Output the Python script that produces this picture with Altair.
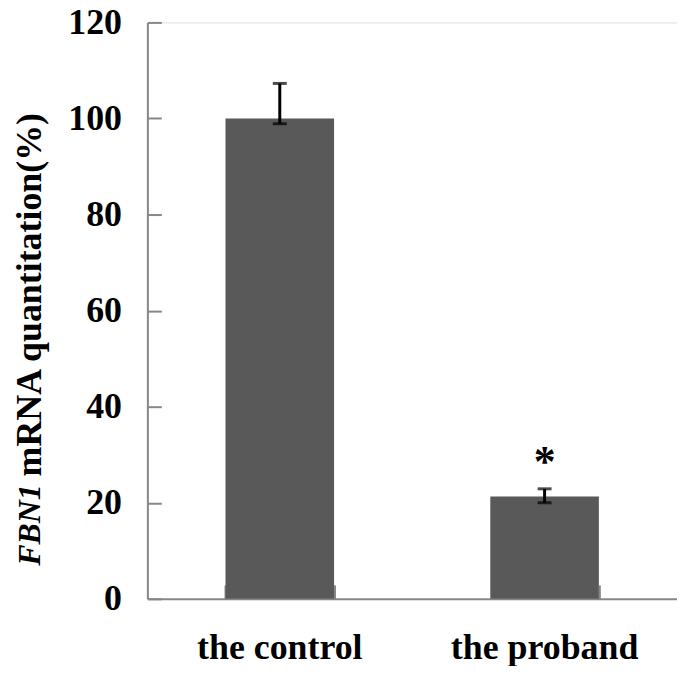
import altair as alt
import pandas as pd

groups = ["the control", "the proband"]
means = [100.0, 21.3]
err_low = [98.9, 20.0]
err_high = [107.3, 22.9]
sig_marks = ["", "*"]
y_ticks = [0, 20, 40, 60, 80, 100, 120]
title_parts = ["FBN1", "mRNA quantitation(%)"]

df = pd.DataFrame({"group": groups, "mean": means, "low": err_low,
                   "high": err_high, "sig": sig_marks})

W, H = 532, 579
FONT = "Liberation Serif"
AXIS_COLOR = "#878787"
BAR_COLOR = "#595959"
TICK = 14

xscale = alt.Scale(domain=groups, paddingInner=0.59, paddingOuter=0.295)
yscale = alt.Scale(domain=[0, 120], nice=False, zero=True)

bars = alt.Chart(df).mark_bar(color=BAR_COLOR).encode(
    x=alt.X("group:N", scale=xscale, sort=groups,
            axis=alt.Axis(orient="bottom", title=None, ticks=False, tickSize=0,
                          labelPadding=32, labelAngle=0, labelFontSize=36,
                          labelFont=FONT, labelFontWeight="bold", labelColor="black",
                          labelBaseline="top", labelLimit=0,
                          domainColor=AXIS_COLOR, domainWidth=2, grid=False)),
    y=alt.Y("mean:Q", scale=yscale,
            axis=alt.Axis(orient="left", title=None, values=y_ticks, ticks=False,
                          tickSize=0, labelPadding=26, labelFontSize=36, labelFont=FONT,
                          labelFontWeight="bold", labelColor="black",
                          domainColor=AXIS_COLOR, domainWidth=2, grid=False)),
)

errs = alt.Chart(df).mark_errorbar(
    color="black",
    ticks={"size": 14, "thickness": 3, "color": "black"},
    rule={"strokeWidth": 3, "color": "black"},
).encode(
    x=alt.X("group:N", scale=xscale, sort=groups, axis=None),
    y=alt.Y("low:Q", scale=yscale, axis=None),
    y2=alt.Y2("high:Q"),
)

stars = alt.Chart(df).mark_text(
    font=FONT, fontSize=44, fontWeight="bold", color="black",
    baseline="alphabetic", dy=-13,
).encode(
    x=alt.X("group:N", scale=xscale, sort=groups,
            axis=alt.Axis(orient="top", offset=-H, title=None, labels=False,
                          domain=False, ticks=True, tickSize=TICK, tickWidth=2,
                          tickColor=AXIS_COLOR, tickBand="extent", grid=False)),
    y=alt.Y("high:Q", scale=yscale,
            axis=alt.Axis(orient="right", offset=-W, title=None, labels=False,
                          domain=False, ticks=True, tickSize=TICK, tickWidth=2,
                          tickColor=AXIS_COLOR, values=y_ticks, grid=False)),
    text="sig:N",
)

title_a = alt.Chart(pd.DataFrame({"t": [title_parts[0]]})).mark_text(
    font=FONT, fontSize=32, fontWeight="bold", fontStyle="italic", color="black",
    angle=270, align="right", baseline="middle",
).encode(x=alt.value(-118), y=alt.value(464), text="t:N")

title_b = alt.Chart(pd.DataFrame({"t": [title_parts[1]]})).mark_text(
    font=FONT, fontSize=36, fontWeight="bold", color="black",
    angle=270, align="left", baseline="middle",
).encode(x=alt.value(-118), y=alt.value(456), text="t:N")

chart = alt.layer(bars, errs, stars, title_a, title_b).resolve_axis(
    x="independent", y="independent"
).properties(
    width=W, height=H,
    autosize=alt.AutoSizeParams(type="none"),
    padding={"left": 140, "top": 13, "right": 0, "bottom": 66},
).configure_view(stroke=None).configure(background="white")

chart.save("out.html", embed_options={"renderer": "svg", "actions": False})
